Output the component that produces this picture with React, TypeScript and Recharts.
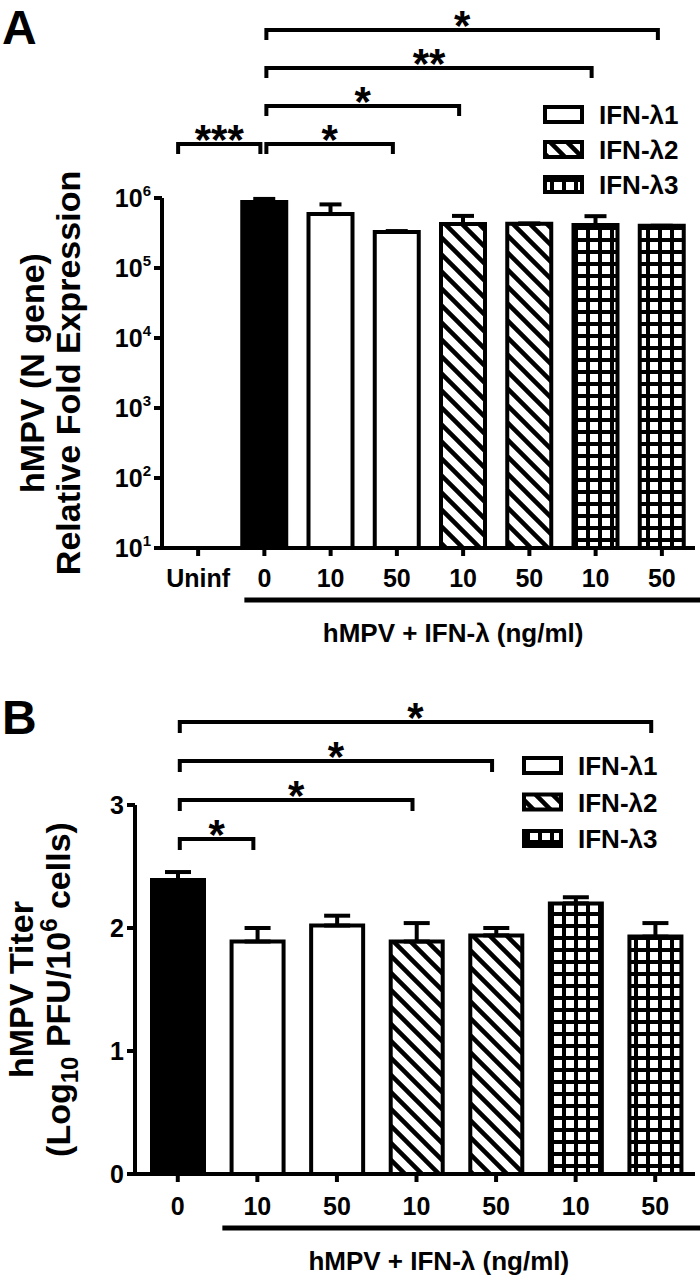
import React from "react";
import { BarChart, Bar, XAxis, YAxis, Cell, ErrorBar } from "recharts";

// panel A: hMPV N gene expression (log scale)
const catsA = ["Uninf", "0", "10", "50", "10", "50", "10", "50"];
const groupsA = ["none", "ctrl", "l1", "l1", "l2", "l2", "l3", "l3"];
const valuesA = [null, 880000, 590000, 327000, 425000, 430000, 410000, 400000];
const errA = [null, 90000, 220000, 10000, 130000, 0, 140000, 0];
const ticksA = [10, 100, 1000, 10000, 100000, 1000000];

// panel B: hMPV titer
const catsB = ["0", "10", "50", "10", "50", "10", "50"];
const groupsB = ["ctrl", "l1", "l1", "l2", "l2", "l3", "l3"];
const valuesB = [2.39, 1.89, 2.02, 1.89, 1.94, 2.2, 1.93];
const errB = [0.065, 0.11, 0.08, 0.15, 0.06, 0.05, 0.11];
const ticksB = [0, 1, 2, 3];

const legendItems = [
  { group: "l1", label: "IFN-λ1" },
  { group: "l2", label: "IFN-λ2" },
  { group: "l3", label: "IFN-λ3" },
];

// significance brackets (category index from/to, stacking level)
const bracketsA = [
  { from: 0, to: 1, level: 0, stars: "***", shift: -22 },
  { from: 1, to: 3, level: 0, stars: "*", shift: 0 },
  { from: 1, to: 4, level: 1, stars: "*", shift: 0 },
  { from: 1, to: 6, level: 2, stars: "**", shift: 0 },
  { from: 1, to: 7, level: 3, stars: "*", shift: 0 },
];
const bracketsB = [
  { from: 0, to: 1, level: 0, stars: "*", shift: 0 },
  { from: 0, to: 3, level: 1, stars: "*", shift: 0 },
  { from: 0, to: 4, level: 2, stars: "*", shift: 0 },
  { from: 0, to: 6, level: 3, stars: "*", shift: 0 },
];

const FONT = "'Liberation Sans', Arial, Helvetica, sans-serif";

const fillOf: Record<string, string> = {
  none: "#fff",
  ctrl: "#000",
  l1: "#fff",
  l2: "url(#hatch)",
  l3: "url(#grid)",
};

const rowsA = catsA.map((name, i) => ({
  name,
  group: groupsA[i],
  value: valuesA[i],
  err: errA[i] == null ? null : [0, errA[i]],
}));
const rowsB = catsB.map((name, i) => ({
  name,
  group: groupsB[i],
  value: valuesB[i],
  err: [0, errB[i]],
}));

// plot geometry shared by chart and annotations
const A = { h: 650, left: 162, right: 695, pad: 3, top: 198, bottom: 548 };
const B = { h: 631, left: 135, right: 695, pad: 3, top: 155, bottom: 524 };

const center = (g: any, n: number, i: number) =>
  g.left + g.pad + ((g.right - g.left - g.pad) / n) * (i + 0.5);

const PowTick = (props: any) => {
  const { x, y, payload } = props;
  const exp = Math.round(Math.log10(payload.value));
  return (
    <text x={x} y={y + 9} textAnchor="end" fontFamily={FONT} fontWeight="bold" fontSize={25} fill="#000">
      10
      <tspan dy={-11} fontSize={15}>
        {exp}
      </tspan>
    </text>
  );
};

const NumTick = (props: any) => {
  const { x, y, payload } = props;
  return (
    <text x={x} y={y + 9} textAnchor="end" fontFamily={FONT} fontWeight="bold" fontSize={25} fill="#000">
      {payload.value}
    </text>
  );
};

const CatTick = (props: any) => {
  const { x, y, payload } = props;
  return (
    <text x={x} y={y + 27} textAnchor="middle" fontFamily={FONT} fontWeight="bold" fontSize={25} fill="#000">
      {payload.value}
    </text>
  );
};

const Brackets = ({ items, g, n, base, step, drop }: any) => (
  <g>
    {items.map((b: any, k: number) => {
      const x1 = center(g, n, b.from) + 2 + b.shift;
      const x2 = center(g, n, b.to) - 4;
      const y = base - b.level * step;
      return (
        <g key={k}>
          <path
            d={`M${x1},${y + drop} V${y} H${x2} V${y + drop}`}
            fill="none"
            stroke="#000"
            strokeWidth={4}
          />
          <text
            x={(x1 + x2) / 2}
            y={y + 10}
            textAnchor="middle"
            fontFamily={FONT}
            fontWeight="bold"
            fontSize={42}
          >
            {b.stars}
          </text>
        </g>
      );
    })}
  </g>
);

const LegendBoxes = ({ x, y0, step }: any) => (
  <g>
    {legendItems.map((it, k) => {
      const cy = y0 + k * step;
      return (
        <g key={it.group}>
          <rect x={x + 2} y={cy - 8} width={37} height={15} fill={fillOf[it.group]} stroke="#000" strokeWidth={4} />
          <text x={x + 56} y={cy + 9} fontFamily={FONT} fontWeight="bold" fontSize={26}>
            {it.label}
          </text>
        </g>
      );
    })}
  </g>
);

const GroupLine = ({ g, n, y, first, back }: any) => {
  const x1 = center(g, n, first) - back;
  const mid = (x1 + center(g, n, n - 1)) / 2;
  return (
    <g>
      <line x1={x1} x2={700} y1={y} y2={y} stroke="#000" strokeWidth={5} />
      <text x={mid} y={y + 42} textAnchor="middle" fontFamily={FONT} fontWeight="bold" fontSize={26}>
        hMPV + IFN-λ (ng/ml)
      </text>
    </g>
  );
};

export default function App() {
  const midA = (A.top + A.bottom) / 2;
  const midB = (B.top + B.bottom) / 2;
  return (
    <div style={{ position: "absolute", left: 0, top: 0, width: 700, height: 1281, background: "#fff" }}>
      <svg width={0} height={0} style={{ position: "absolute" }}>
        <defs>
          <pattern id="hatch" patternUnits="userSpaceOnUse" width={17} height={17}>
            <rect width={17} height={17} fill="#fff" />
            <path d="M0,0 L17,17 M-5,12 L5,22 M12,-5 L22,5" stroke="#000" strokeWidth={4.5} />
          </pattern>
          <pattern id="grid" patternUnits="userSpaceOnUse" width={12} height={12}>
            <rect width={12} height={12} fill="#000" />
            <rect x={2} y={2} width={8} height={8} fill="#fff" />
          </pattern>
        </defs>
      </svg>

      {/* panel A */}
      <div style={{ position: "absolute", left: 0, top: 0 }}>
        <BarChart
          width={700}
          height={A.h}
          data={rowsA}
          margin={{ top: A.top, right: 700 - A.right, left: 0, bottom: 0 }}
        >
          <XAxis
            dataKey="name"
            interval={0}
            padding={{ left: A.pad, right: 0 }}
            height={A.h - A.bottom}
            tickSize={8}
            tickMargin={4}
            axisLine={{ stroke: "#000", strokeWidth: 4 }}
            tickLine={{ stroke: "#000", strokeWidth: 4 }}
            tick={<CatTick />}
          />
          <YAxis
            scale="log"
            domain={[10, 1000000]}
            ticks={ticksA}
            allowDataOverflow
            width={A.left}
            tickSize={8}
            tickMargin={3}
            axisLine={{ stroke: "#000", strokeWidth: 4 }}
            tickLine={{ stroke: "#000", strokeWidth: 4 }}
            tick={<PowTick />}
          />
          <Bar dataKey="value" barSize={44} stroke="#000" strokeWidth={4} isAnimationActive={false}>
            {rowsA.map((r, i) => (
              <Cell key={i} fill={fillOf[r.group]} />
            ))}
            <ErrorBar dataKey="err" width={11} stroke="#000" strokeWidth={4} direction="y" />
          </Bar>
        </BarChart>
      </div>
      <svg
        width={700}
        height={A.h}
        style={{ position: "absolute", left: 0, top: 0, pointerEvents: "none" }}
      >
        <text x={2} y={44} fontFamily={FONT} fontWeight="bold" fontSize={48}>
          A
        </text>
        <Brackets items={bracketsA} g={A} n={catsA.length} base={144} step={38} drop={10} />
        <LegendBoxes x={543} y0={115} step={35} />
        <GroupLine g={A} n={catsA.length} y={600} first={1} back={20} />
        <g fontFamily={FONT} fontWeight="bold" fontSize={34} textAnchor="middle">
          <text transform={`translate(44,${midA}) rotate(-90)`}>hMPV (N gene)</text>
          <text transform={`translate(80,${midA}) rotate(-90)`}>Relative Fold Expression</text>
        </g>
      </svg>

      {/* panel B */}
      <div style={{ position: "absolute", left: 0, top: 650 }}>
        <BarChart
          width={700}
          height={B.h}
          data={rowsB}
          margin={{ top: B.top, right: 700 - B.right, left: 0, bottom: 0 }}
        >
          <XAxis
            dataKey="name"
            interval={0}
            padding={{ left: B.pad, right: 0 }}
            height={B.h - B.bottom}
            tickSize={8}
            tickMargin={6}
            axisLine={{ stroke: "#000", strokeWidth: 4 }}
            tickLine={{ stroke: "#000", strokeWidth: 4 }}
            tick={<CatTick />}
          />
          <YAxis
            domain={[0, 3]}
            ticks={ticksB}
            allowDataOverflow
            width={B.left}
            tickSize={8}
            tickMargin={3}
            axisLine={{ stroke: "#000", strokeWidth: 4 }}
            tickLine={{ stroke: "#000", strokeWidth: 4 }}
            tick={<NumTick />}
          />
          <Bar dataKey="value" barSize={52} stroke="#000" strokeWidth={4} isAnimationActive={false}>
            {rowsB.map((r, i) => (
              <Cell key={i} fill={fillOf[r.group]} />
            ))}
            <ErrorBar dataKey="err" width={13} stroke="#000" strokeWidth={4} direction="y" />
          </Bar>
        </BarChart>
      </div>
      <svg
        width={700}
        height={B.h}
        style={{ position: "absolute", left: 0, top: 650, pointerEvents: "none" }}
      >
        <text x={2} y={84} fontFamily={FONT} fontWeight="bold" fontSize={48}>
          B
        </text>
        <Brackets items={bracketsB} g={B} n={catsB.length} base={189} step={39} drop={11} />
        <LegendBoxes x={522} y0={116} step={36.5} />
        <GroupLine g={B} n={catsB.length} y={578} first={1} back={35} />
        <g fontFamily={FONT} fontWeight="bold" fontSize={34} textAnchor="middle">
          <text transform={`translate(33,${midB}) rotate(-90)`}>hMPV Titer</text>
          <text transform={`translate(70,${midB}) rotate(-90)`}>
            (Log
            <tspan dy={8} fontSize={24}>
              10
            </tspan>
            <tspan dy={-8}> PFU/10</tspan>
            <tspan dy={-13} fontSize={24}>
              6
            </tspan>
            <tspan dy={13}> cells)</tspan>
          </text>
        </g>
      </svg>
    </div>
  );
}
